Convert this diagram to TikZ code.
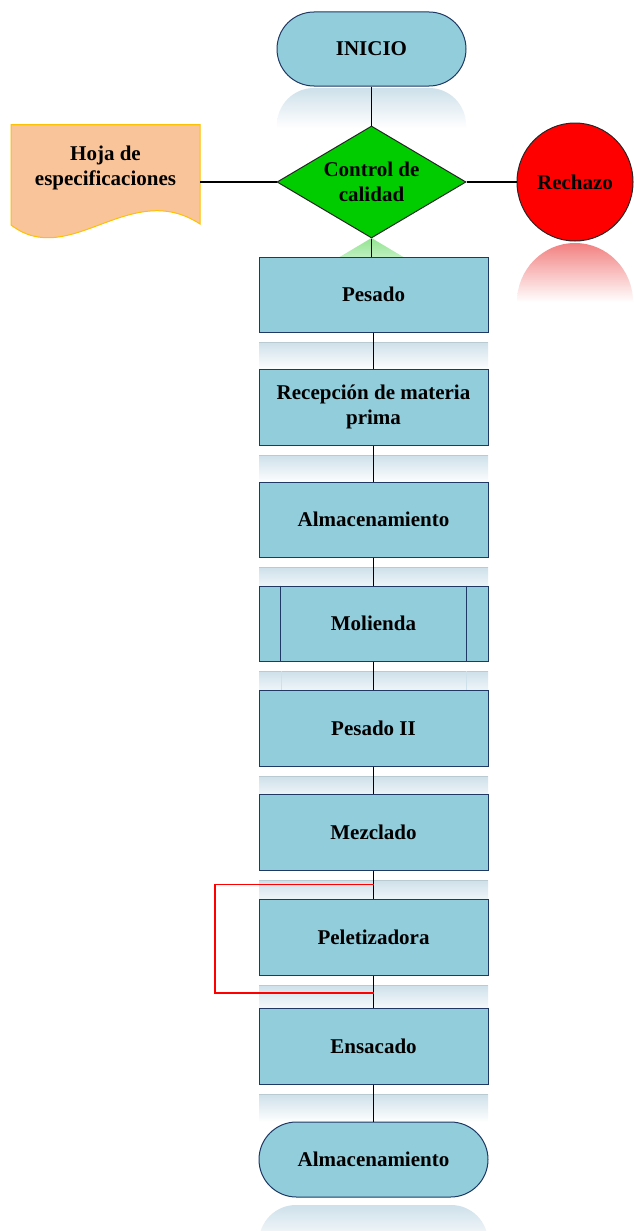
\documentclass[tikz,border=0pt]{standalone}
\usepackage{fontspec}
\setmainfont{Liberation Serif}
\usetikzlibrary{shapes.geometric,shapes.misc,calc}
\definecolor{boxfill}{RGB}{146,205,220}
\definecolor{boxline}{RGB}{31,56,100}
\definecolor{qcgreen}{RGB}{0,204,0}
\definecolor{hojafill}{RGB}{250,196,154}
\definecolor{hojaline}{RGB}{255,192,0}
\definecolor{reflblue}{RGB}{206,224,234}
\definecolor{reflred}{RGB}{242,128,128}
\definecolor{reflgreen}{RGB}{145,228,145}
\begin{document}
\begin{tikzpicture}[x=1pt,y=-1pt,
  txt/.style={font=\fontsize{21}{25}\selectfont\bfseries, align=center, text=black},
  procbox/.style={txt, rectangle, draw=boxline, fill=boxfill, line width=1pt, minimum width=229pt, minimum height=76pt, inner sep=0pt},
  termbox/.style={procbox, rounded rectangle},
  conn/.style={draw=black, line width=1.3pt},
  loopline/.style={draw=red, line width=1.5pt},
  refl/.style={top color=reflblue, bottom color=white, draw=none},
  refledge/.style={draw=reflblue!90!black, line width=0.5pt},
]
\useasboundingbox (0,0) rectangle (634,1231);
\fill[white] (0,0) rectangle (634,1231);
\clip (0,0) rectangle (634,1231);

% reflections
\shade[refl] (277,128) -- (277,125) arc[start angle=180, end angle=270, radius=37] -- (429,88) arc[start angle=270, end angle=360, radius=37] -- (466,128) -- cycle;
\shade[top color=reflred, bottom color=white] (517,302) arc[start angle=180, end angle=360, x radius=58, y radius=59] -- cycle;
\shade[top color=reflgreen, bottom color=white] (371.5,238) -- (296,283) -- (447,283) -- cycle;
\foreach \b in {332,445,557,661,766,870,975,1084} {
  \shade[refl] (259,{\b+10}) rectangle (488,{\b+38});
  \draw[refledge] (259,{\b+10}) -- (488,{\b+10});
}
\draw[reflblue, line width=0.8pt] (281,671) -- (281,690) (466,671) -- (466,690);
\shade[refl] (259,1245) -- (259,1242) arc[start angle=180, end angle=270, radius=37] -- (451,1205) arc[start angle=270, end angle=360, radius=37] -- (488,1245) -- cycle;

% document shape
\draw[fill=hojafill, draw=hojaline, line width=1pt] (11,124.7) -- (200,124.7) -- (200,224) .. controls (130,178) and (70,270) .. (11,225) -- cycle;
\node[txt] (hoja) at (105.5,167.5) {Hoja de\\especificaciones};
\coordinate (hojaR) at (200,182);

% nodes
\node[termbox, minimum width=189pt, minimum height=74pt] (ini) at (371.5,49) {INICIO};
\node[diamond, txt, draw=black!85, fill=qcgreen, line width=1pt, shape aspect=1.7, minimum width=189pt, minimum height=112pt, inner sep=0pt] (qc) at (371.5,182) {Control de\\calidad};
\node[ellipse, txt, draw=black!85, fill=red, line width=1pt, minimum width=116pt, minimum height=118pt, inner sep=0pt] (rech) at (575,182) {Rechazo};

\node[procbox, minimum height=75pt] (pes) at (373.5,294.5) {Pesado};
\node[procbox] (rec) at (373.5,407) {Recepción de materia\\prima};
\node[procbox, minimum height=75pt] (alm) at (373.5,519.5) {Almacenamiento};
\node[procbox, minimum height=75pt] (mol) at (373.5,623.5) {Molienda};
\draw[boxline, line width=1pt] ([xshift=22pt]mol.north west) -- ([xshift=22pt]mol.south west);
\draw[boxline, line width=1pt] ([xshift=-22pt]mol.north east) -- ([xshift=-22pt]mol.south east);
\node[procbox] (pes2) at (373.5,728) {Pesado II};
\node[procbox] (mez) at (373.5,832) {Mezclado};
\node[procbox] (pel) at (373.5,937) {Peletizadora};
\node[procbox] (ens) at (373.5,1046) {Ensacado};
\node[termbox, minimum height=75pt] (fin) at (373.5,1159.5) {Almacenamiento};

% connectors
\draw[conn] (ini.south) -- (qc.north);
\draw[conn] (hojaR) -- (qc.west);
\draw[conn] (qc.east) -- (rech.west);
\draw[conn] (qc.south) -- (qc.south |- pes.north);
\draw[conn] (pes.south) -- (rec.north);
\draw[conn] (rec.south) -- (alm.north);
\draw[conn] (alm.south) -- (mol.north);
\draw[conn] (mol.south) -- (pes2.north);
\draw[conn] (pes2.south) -- (mez.north);
\draw[conn] (mez.south) -- (pel.north);
\draw[conn] (pel.south) -- (ens.north);
\draw[conn] (ens.south) -- (fin.north);

% red loop
\coordinate (rA) at ($(mez.south)!0.5!(pel.north)$);
\coordinate (rB) at ($(pel.south)!0.55!(ens.north)$);
\coordinate (rL) at (215,900);
\draw[loopline] (rA) -- (rA -| rL) |- (rB);
\end{tikzpicture}
\end{document}
